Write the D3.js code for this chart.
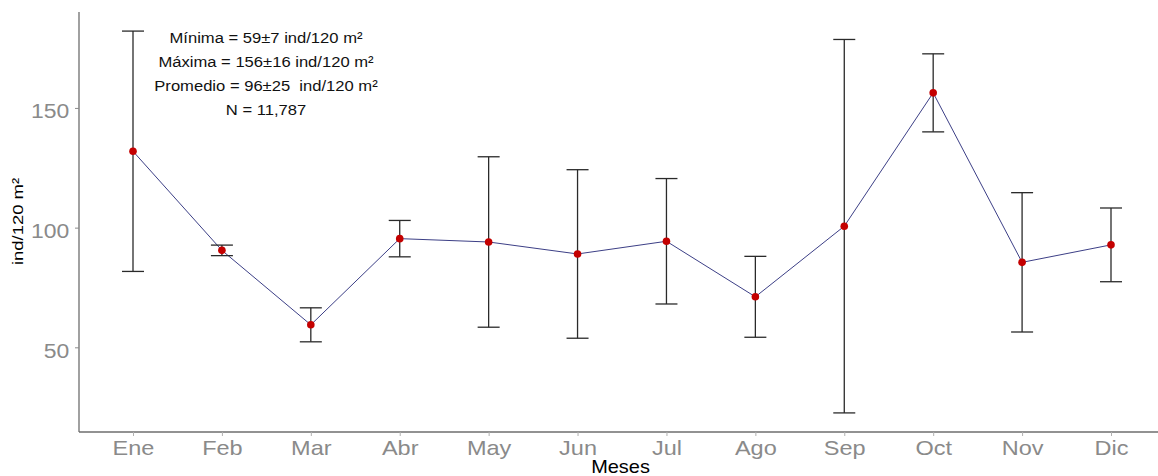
<!DOCTYPE html>
<html>
<head>
<meta charset="utf-8">
<script src="https://cdn.jsdelivr.net/npm/d3@7"></script>
<style>
  html, body { margin: 0; padding: 0; background: #fff; }
  svg { display: block; font-family: "Liberation Sans", Arial, sans-serif; }
</style>
</head>
<body>
<svg id="chart" width="1158" height="476"></svg>
<script>
// Monthly density (mean ± SD, ind/120 m²)
const months = ["Ene", "Feb", "Mar", "Abr", "May", "Jun", "Jul", "Ago", "Sep", "Oct", "Nov", "Dic"];
const means  = [131.9, 90.5, 59.4, 95.4, 94.0, 89.0, 94.3, 71.1, 100.6, 156.3, 85.5, 92.8];
const sds    = [50.2, 2.2, 7.1, 7.6, 35.6, 35.2, 26.2, 16.9, 78.0, 16.3, 29.1, 15.4];
const yTicks = [50, 100, 150];
const notes  = [
  "Mínima = 59±7 ind/120 m²",
  "Máxima = 156±16 ind/120 m²",
  "Promedio = 96±25  ind/120 m²",
  "N = 11,787"
];

const data = months.map((m, i) => ({ m, mean: means[i], lo: means[i] - sds[i], hi: means[i] + sds[i] }));

const svg = d3.select("#chart");
const W = 1158;
const panelLeft = 79, panelTop = 12, panelBottom = 432;

const x = d3.scalePoint().domain(months).range([133, 1111]);
const yLo = d3.min(data, d => d.lo), yHi = d3.max(data, d => d.hi);
const pad = (yHi - yLo) * 0.05;
const y = d3.scaleLinear().domain([yLo - pad, yHi + pad]).range([panelBottom, panelTop]);

const grey = "#8a8a8a";

// axis lines
svg.append("line").attr("x1", panelLeft).attr("x2", panelLeft).attr("y1", panelTop).attr("y2", panelBottom)
  .attr("stroke", "#6e6e6e").attr("stroke-width", 1.3);
svg.append("line").attr("x1", panelLeft).attr("x2", W).attr("y1", panelBottom).attr("y2", panelBottom)
  .attr("stroke", "#6e6e6e").attr("stroke-width", 1.3);

// x axis
const gx = svg.append("g").attr("transform", `translate(0,${panelBottom})`)
  .call(d3.axisBottom(x).tickSize(4).tickSizeOuter(0));
gx.select(".domain").remove();
gx.selectAll(".tick line").attr("stroke", "#b0b0b0");
gx.selectAll(".tick text")
  .attr("fill", grey).attr("font-size", 21).attr("y", 23.5).attr("dy", 0)
  .attr("transform", "scale(1.12,1)");

// y axis
const gy = svg.append("g").attr("transform", `translate(${panelLeft},0)`)
  .call(d3.axisLeft(y).tickValues(yTicks).tickSize(4).tickSizeOuter(0));
gy.select(".domain").remove();
gy.selectAll(".tick line").attr("stroke", "#8a8a8a");
gy.selectAll(".tick text")
  .attr("fill", grey).attr("font-size", 20.5).attr("x", -8.7).attr("y", 9.8).attr("dy", 0)
  .attr("transform", "scale(1.12,1)");

// axis titles
svg.append("text")
  .attr("transform", "translate(620.5,472.5) scale(1.05,1)")
  .attr("text-anchor", "middle").attr("font-size", 19).attr("fill", "#000")
  .text("Meses");
svg.append("text")
  .attr("transform", "translate(23,221.5) rotate(-90) scale(1.19,1)")
  .attr("text-anchor", "middle").attr("font-size", 15.5).attr("fill", "#000")
  .text("ind/120 m²");

// connecting line
svg.append("path").datum(data)
  .attr("fill", "none").attr("stroke", "#3c3f86").attr("stroke-width", 1)
  .attr("d", d3.line().x(d => x(d.m)).y(d => y(d.mean)));

// error bars
const eb = svg.append("g").attr("stroke", "#2a2a2a").attr("stroke-width", 1.3);
const capW = 11;
data.forEach(d => {
  const cx = x(d.m);
  eb.append("line").attr("x1", cx).attr("x2", cx).attr("y1", y(d.hi)).attr("y2", y(d.lo));
  eb.append("line").attr("x1", cx - capW).attr("x2", cx + capW).attr("y1", y(d.hi)).attr("y2", y(d.hi));
  eb.append("line").attr("x1", cx - capW).attr("x2", cx + capW).attr("y1", y(d.lo)).attr("y2", y(d.lo));
});

// mean points
svg.append("g").selectAll("circle").data(data).join("circle")
  .attr("cx", d => x(d.m)).attr("cy", d => y(d.mean)).attr("r", 3.8)
  .attr("fill", "#c40000");

// summary annotation
const noteY = [42.7, 66.7, 91, 115];
notes.forEach((t, i) => {
  svg.append("text")
    .attr("transform", `translate(266,${noteY[i]}) scale(1.07,1)`)
    .attr("text-anchor", "middle").attr("font-size", 15.5).attr("fill", "#111")
    .style("white-space", "pre")
    .text(t);
});
</script>
</body>
</html>
